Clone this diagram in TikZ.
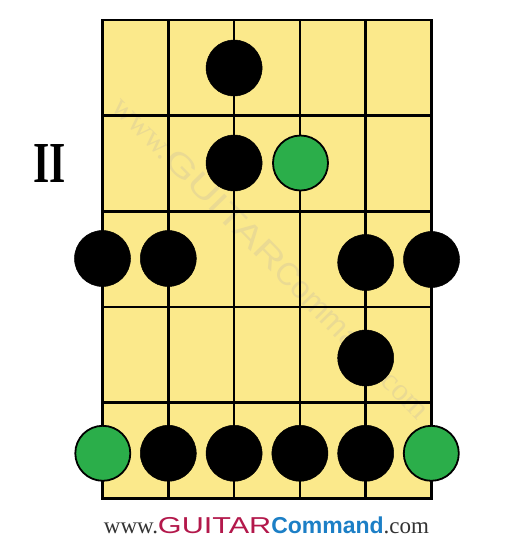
\documentclass[tikz,border=0pt]{standalone}
\usepackage{fontspec}
\setmainfont{Liberation Serif}
\newfontfamily\footsans{Liberation Sans}
\newfontfamily\romanfont{Liberation Serif}
\definecolor{fretyellow}{HTML}{FBE98B}
\definecolor{rootgreen}{HTML}{2BAE4A}
\definecolor{crim}{HTML}{B3184B}
\definecolor{blu}{HTML}{1C7FC6}
\definecolor{wwwgray}{HTML}{333333}
\definecolor{wmark}{HTML}{EADA93}
\tikzset{
  gridline/.style={line width=2.7pt, black},
  blackdot/.style={circle, fill=black, draw=black, line width=0.5pt, minimum size=56pt, inner sep=0pt},
  rootdot/.style={circle, fill=rootgreen, draw=black, line width=1.8pt, minimum size=55pt, inner sep=0pt},
}
\newcommand{\footertext}[1]{%
  {\romanfont\fontsize{23}{23}\selectfont\color{#1}www.}%
  {\footsans\fontsize{23}{23}\selectfont\color{crim}\scalebox{1.33}[1]{GUITAR}}%
  {\footsans\bfseries\fontsize{23}{23}\selectfont\color{blu}Command}%
  {\romanfont\fontsize{23}{23}\selectfont\color{#1}.com}}
\newcommand{\wmtext}{%
  {\romanfont\fontsize{22}{22}\selectfont www.}%
  {\footsans\fontsize{22}{22}\selectfont\scalebox{1.35}[1]{GUITAR}}%
  {\footsans\fontsize{22}{22}\selectfont Command}%
  {\romanfont\fontsize{22}{22}\selectfont .com}}
\begin{document}
\begin{tikzpicture}[x=1pt,y=-1pt]
\useasboundingbox (0,0) rectangle (532,550);
\fill[white] (0,0) rectangle (532,550);
% fretboard
\fill[fretyellow] (102.5,20) rectangle (431.5,498.3);
% watermark
\node[text=wmark, rotate=-45.6, scale=1.43] (wm) at (272,257) {\wmtext};
% strings
\foreach \i in {0,...,5} {
  \draw[gridline] ({102.5+65.8*\i},20) -- ({102.5+65.8*\i},498.3);
}
% frets
\foreach \j in {0,...,5} {
  \draw[gridline] (101.15,{20+95.66*\j}) -- (432.85,{20+95.66*\j});
}
% label
\node[font=\romanfont\bfseries\fontsize{58}{58}\selectfont] (pos) at (50,164) {\scalebox{0.72}[1]{II}};
% dots
\node[blackdot] (d1) at (234.1,68) {};
\node[blackdot] (d2) at (234.1,163) {};
\node[rootdot]  (g1) at (300.5,163) {};
\node[blackdot] (d3) at (102.5,258.5) {};
\node[blackdot] (d4) at (168.3,258.5) {};
\node[blackdot] (d5) at (365.7,262.5) {};
\node[blackdot] (d6) at (431.5,259.5) {};
\node[blackdot] (d7) at (365.7,358) {};
\node[rootdot]  (g2) at (102.8,453.3) {};
\node[blackdot] (d8) at (168.3,453.3) {};
\node[blackdot] (d9) at (234.1,453.3) {};
\node[blackdot] (d10) at (299.9,453.3) {};
\node[blackdot] (d11) at (365.7,453.3) {};
\node[rootdot]  (g3) at (431.3,453.3) {};
% footer
\node[anchor=base, inner sep=0pt] (footer) at (266.5,533.5) {\footertext{wwwgray}};
\end{tikzpicture}
\end{document}
